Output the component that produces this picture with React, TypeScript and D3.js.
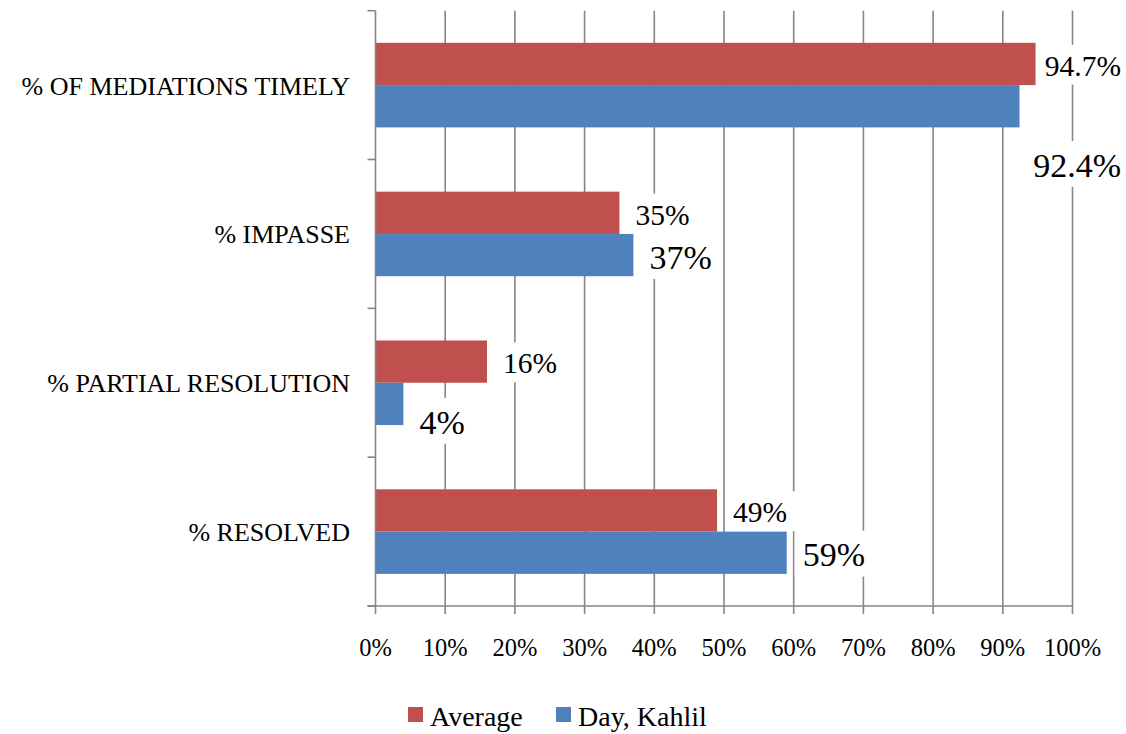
import React, { useEffect, useRef } from 'react';
import * as d3 from 'd3';

const categories = ['% OF MEDIATIONS TIMELY', '% IMPASSE', '% PARTIAL RESOLUTION', '% RESOLVED'];
const seriesNames = ['Average', 'Day, Kahlil'];
const averageValues = [94.7, 35, 16, 49];
const dayValues = [92.4, 37, 4, 59];
const averageLabels = ['94.7%', '35%', '16%', '49%'];
const dayLabels = ['92.4%', '37%', '4%', '59%'];
const xTicks = [0, 10, 20, 30, 40, 50, 60, 70, 80, 90, 100];

const colors = ['#C0504D', '#4F81BD'];
const FONT = "'Liberation Serif', Tinos, 'Times New Roman', Times, 'DejaVu Serif', serif";
const GRID = '#868686';

const App: React.FC = () => {
  const svgRef = useRef<SVGSVGElement | null>(null);

  useEffect(() => {
    if (!svgRef.current) return;
    const svg = d3.select(svgRef.current);
    svg.selectAll('*').remove();

    const width = 1126;
    const left = 375.5, right = 1072.5, top = 10.7, bottom = 606;

    const x = d3.scaleLinear().domain([0, 100]).range([left, right]);
    const y = d3.scaleBand().domain(categories).range([top, bottom]).padding(0);
    const inner = d3.scaleBand().domain(seriesNames).range([0, y.bandwidth()])
      .paddingInner(0).paddingOuter(0.76);

    // gridlines
    svg.append('g')
      .selectAll('line')
      .data(xTicks.slice(1))
      .join('line')
        .attr('x1', d => x(d)).attr('x2', d => x(d))
        .attr('y1', top).attr('y2', bottom + 8)
        .attr('stroke', GRID).attr('stroke-width', 1.6);

    // bars
    const series = [averageValues, dayValues];
    const labels = [averageLabels, dayLabels];
    series.forEach((vals, si) => {
      svg.append('g')
        .attr('fill', colors[si])
        .selectAll('rect')
        .data(vals)
        .join('rect')
          .attr('x', x(0))
          .attr('y', (_, i) => (y(categories[i]) || 0) + (inner(seriesNames[si]) || 0))
          .attr('width', d => x(d) - x(0))
          .attr('height', inner.bandwidth());
    });

    // axes
    const axis = svg.append('g').attr('stroke', GRID).attr('stroke-width', 1.6);
    axis.append('line').attr('x1', left).attr('x2', left).attr('y1', top).attr('y2', bottom);
    axis.append('line').attr('x1', left - 8).attr('x2', right).attr('y1', bottom).attr('y2', bottom);
    const yEdges = categories.map(c => y(c) || 0).concat([bottom]);
    axis.selectAll('line.yt').data(yEdges).join('line')
      .attr('class', 'yt')
      .attr('x1', left - 8).attr('x2', left).attr('y1', d => d).attr('y2', d => d);
    axis.append('line').attr('x1', left).attr('x2', left).attr('y1', bottom).attr('y2', bottom + 8);

    // tick labels
    svg.append('g')
      .selectAll('text')
      .data(xTicks)
      .join('text')
        .attr('x', d => x(d))
        .attr('y', 656)
        .attr('text-anchor', 'middle')
        .style('font-family', FONT)
        .attr('font-size', 24.5)
        .text(d => `${d}%`);

    // category labels
    svg.append('g')
      .selectAll('text')
      .data(categories)
      .join('text')
        .attr('x', 350)
        .attr('y', d => (y(d) || 0) + y.bandwidth() / 2 + 9.5)
        .attr('text-anchor', 'end')
        .style('font-family', FONT)
        .attr('font-size', 26)
        .text(d => d);

    // data labels with white boxes (Excel moved two of them)
    const sizes = [29.5, 34];
    const shiftDown: Record<string, number> = { '1-2': 16 };
    const belowBar = new Set(['1-0']);
    const lg = svg.append('g');
    series.forEach((vals, si) => {
      vals.forEach((v, i) => {
        const key = `${si}-${i}`;
        const fs = sizes[si];
        const by = (y(categories[i]) || 0) + (inner(seriesNames[si]) || 0);
        const bc = by + inner.bandwidth() / 2;
        const g = lg.append('g');
        const rect = g.append('rect').attr('fill', '#fff');
        const t = g.append('text')
          .style('font-family', FONT)
          .attr('font-size', fs)
          .attr('fill', '#000')
          .text(labels[si][i]);
        const w = (t.node() as SVGTextElement).getComputedTextLength();
        let tx = x(v) + 16;
        if (tx + w > width - 5) tx = width - 5 - w;
        let ty = bc + fs * 0.4 + (shiftDown[key] || 0);
        if (belowBar.has(key)) ty = by + inner.bandwidth() + fs * 1.45;
        t.attr('x', tx).attr('y', ty);
        rect.attr('x', tx - 8).attr('y', ty - fs * 1.05)
          .attr('width', w + 16).attr('height', fs * 1.35);
      });
    });

    // legend
    const legendX = [408, 556];
    const leg = svg.append('g');
    seriesNames.forEach((name, i) => {
      leg.append('rect')
        .attr('x', legendX[i]).attr('y', 707)
        .attr('width', 15).attr('height', 15)
        .attr('fill', colors[i]);
      leg.append('text')
        .attr('x', legendX[i] + 22).attr('y', 726)
        .style('font-family', FONT)
        .attr('font-size', 28)
        .text(name);
    });
  }, []);

  return (
    <svg
      ref={svgRef}
      width={1126}
      height={734}
      style={{ position: 'absolute', left: 0, top: 0, background: '#fff' }}
    />
  );
};

export default App;
